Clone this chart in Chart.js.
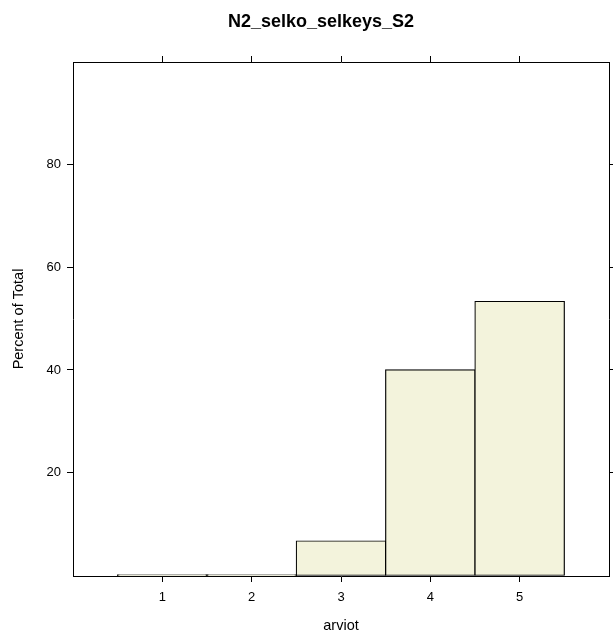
<!DOCTYPE html>
<html>
<head>
<meta charset="utf-8">
<script src="https://cdn.jsdelivr.net/npm/chart.js@4/dist/chart.umd.min.js"></script>
<style>
html, body { margin: 0; padding: 0; background: #ffffff; }
#wrap { position: relative; width: 613px; height: 637px; }
</style>
</head>
<body>
<div id="wrap"><canvas id="c" width="613" height="637"></canvas></div>
<script>
// ---- data ----
const chartTitle = 'N2_selko_selkeys_S2';
const xTitle = 'arviot';
const yTitle = 'Percent of Total';
const categories = [1, 2, 3, 4, 5];
const percents = [0, 0, 6.67, 40, 53.33];
const xTicks = [1, 2, 3, 4, 5];
const yTicks = [20, 40, 60, 80];
const xRange = [0, 6];
const yRange = [-0.15, 100];

// ---- style ----
const FONT = "'Liberation Sans', Arial, Helvetica, sans-serif";
Chart.defaults.font.family = FONT;
Chart.defaults.color = '#000';

const titlePlugin = {
  id: 'latticeTitle',
  afterDraw(chart) {
    const ctx = chart.ctx;
    ctx.save();
    ctx.font = "bold 18px " + FONT;
    ctx.fillStyle = '#000';
    ctx.textAlign = 'center';
    ctx.textBaseline = 'alphabetic';
    ctx.fillText(chartTitle, 321, 27);
    ctx.restore();
  }
};

const tickMarks = (len) => ({
  drawOnChartArea: false,
  drawTicks: true,
  tickLength: len,
  color: '#000',
  lineWidth: 1,
  offset: false
});

new Chart(document.getElementById('c'), {
  type: 'bar',
  data: {
    datasets: [{
      data: categories.map((c, i) => ({ x: c, y: percents[i] })),
      backgroundColor: '#F3F3DC',
      borderColor: '#000000',
      borderWidth: 1.2,
      borderSkipped: false,
      inflateAmount: 0.6,
      barPercentage: 1,
      categoryPercentage: 1,
      minBarLength: 0.6,
      xAxisID: 'x',
      yAxisID: 'y'
    }]
  },
  options: {
    responsive: false,
    animation: false,
    devicePixelRatio: 1,
    layout: { padding: 0 },
    plugins: {
      legend: { display: false },
      tooltip: { enabled: false },
      title: { display: false }
    },
    scales: {
      x: {
        type: 'linear',
        position: 'bottom',
        min: xRange[0], max: xRange[1],
        offset: false,
        grid: tickMarks(6),
        border: { display: true, color: '#000', width: 1 },
        ticks: { font: { size: 13 }, color: '#000', padding: 7.5, autoSkip: false, maxRotation: 0 },
        afterBuildTicks: s => { s.ticks = xTicks.map(v => ({ value: v })); },
        title: { display: true, text: xTitle, color: '#000', font: { size: 14.5 }, padding: { top: 0, bottom: 2 } },
        afterFit: s => { s.height = 61; }
      },
      x2: {
        type: 'linear',
        position: 'top',
        min: xRange[0], max: xRange[1],
        offset: false,
        grid: tickMarks(6),
        border: { display: true, color: '#000', width: 1 },
        ticks: { display: false },
        afterBuildTicks: s => { s.ticks = xTicks.map(v => ({ value: v })); },
        afterFit: s => { s.height = 62; }
      },
      y: {
        type: 'linear',
        position: 'left',
        min: yRange[0], max: yRange[1],
        grid: tickMarks(6),
        border: { display: true, color: '#000', width: 1 },
        ticks: { font: { size: 13 }, color: '#000', padding: 6 },
        afterBuildTicks: s => { s.ticks = yTicks.map(v => ({ value: v })); },
        title: { display: true, text: yTitle, color: '#000', font: { size: 14.5 }, padding: { top: 10.3, bottom: 0 } },
        afterFit: s => { s.width = 73; }
      },
      y2: {
        type: 'linear',
        position: 'right',
        min: yRange[0], max: yRange[1],
        grid: tickMarks(6),
        border: { display: true, color: '#000', width: 1 },
        ticks: { display: false },
        afterBuildTicks: s => { s.ticks = yTicks.map(v => ({ value: v })); },
        afterFit: s => { s.width = 4; }
      }
    }
  },
  plugins: [titlePlugin]
});
</script>
</body>
</html>
